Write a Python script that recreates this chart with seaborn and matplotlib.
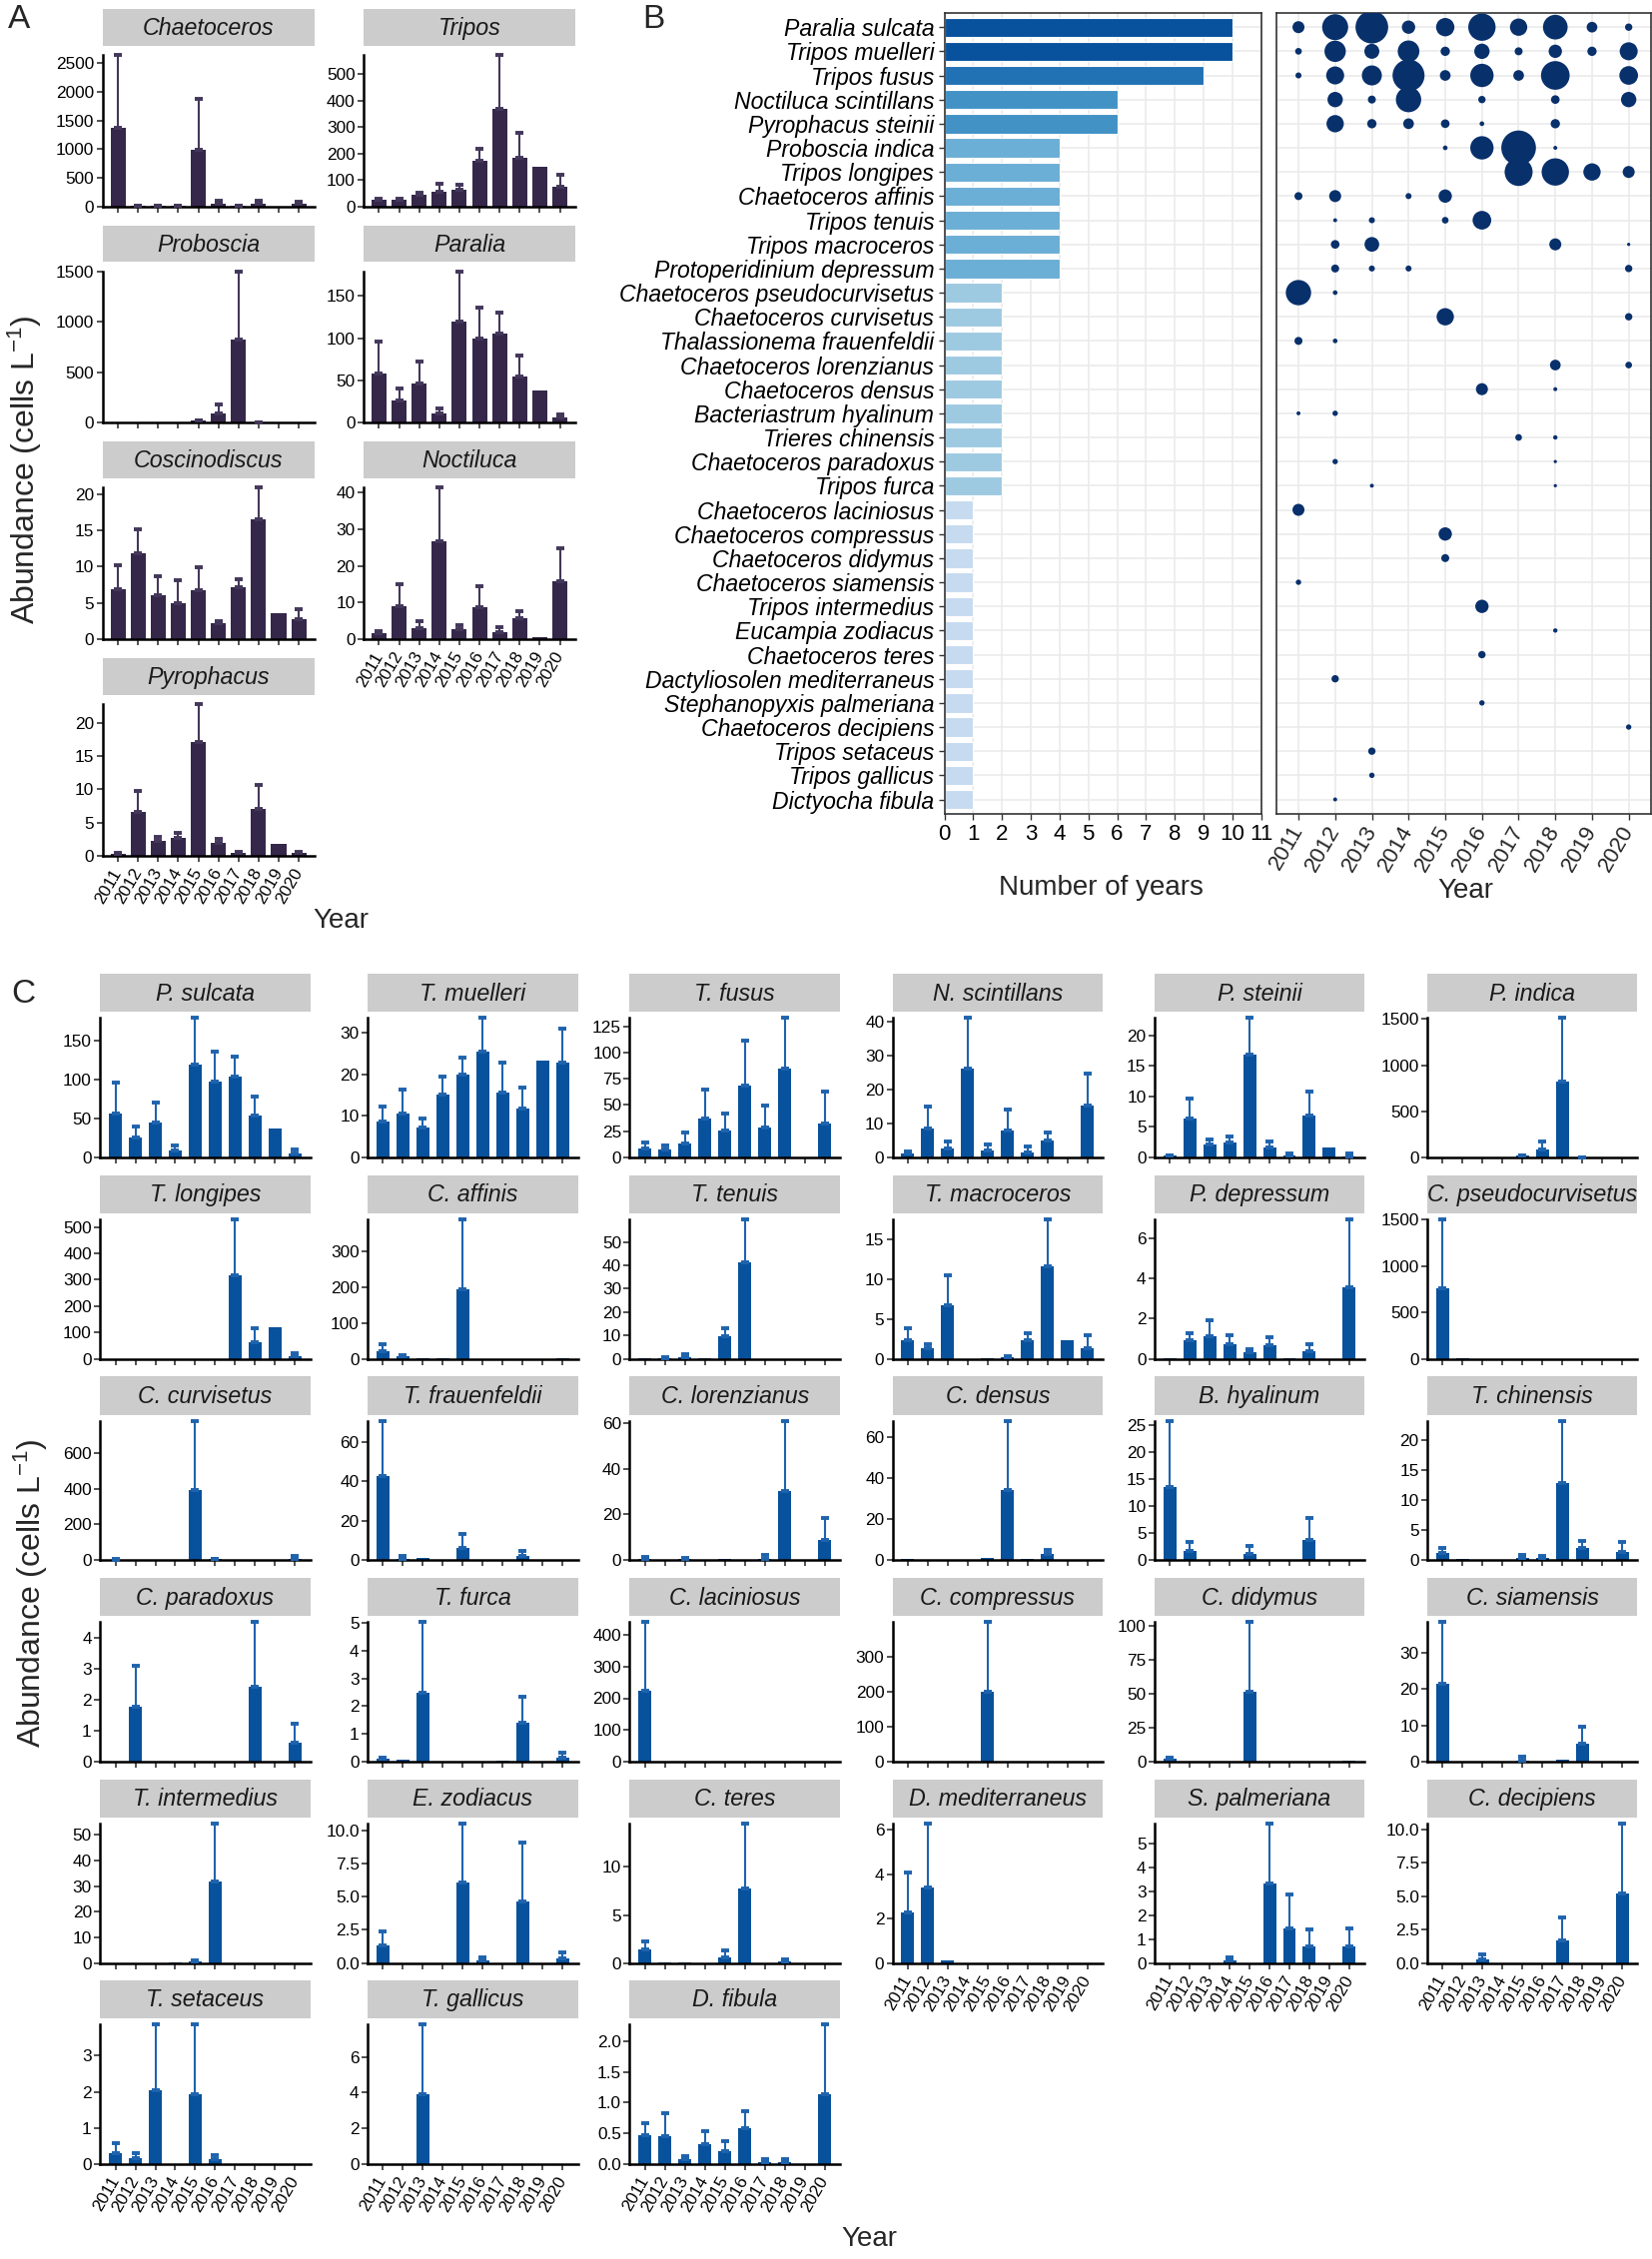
import numpy as np
import pandas as pd
import matplotlib
matplotlib.use('Agg')
import matplotlib.pyplot as plt
from matplotlib.ticker import MultipleLocator, FuncFormatter
import seaborn as sns

sns.set_style('ticks')
plt.rcParams['font.family'] = ['Liberation Sans', 'DejaVu Sans']
plt.rcParams['mathtext.fontset'] = 'custom'
plt.rcParams['mathtext.rm'] = 'Liberation Sans'
plt.rcParams['mathtext.it'] = 'Liberation Sans:italic'

years = ['2011', '2012', '2013', '2014', '2015', '2016', '2017', '2018', '2019', '2020']

# ---------------- panel A: genus level abundance (mean, sd)
genera = ['Chaetoceros', 'Tripos', 'Proboscia', 'Paralia', 'Coscinodiscus', 'Noctiluca', 'Pyrophacus']
genus_mean = [
    [1380, 12, 4, 4, 990, 55, 4, 55, 2, 40],
    [24, 24, 43, 57, 62, 173, 370, 183, 150, 73],
    [1, 1, 1, 2, 23, 96, 829, 4, 1, 1],
    [58.7, 27, 47, 11, 120, 100, 105.5, 55, 38.6, 6.7],
    [6.85, 11.8, 6.1, 5.0, 6.7, 2.2, 7.2, 16.55, 3.55, 2.8],
    [1.5, 8.9, 3.1, 26.7, 2.7, 8.6, 1.9, 5.6, 0.45, 15.9],
    [0.35, 6.55, 2.27, 2.7, 17.1, 1.9, 0.5, 7.05, 1.8, 0.4],
]
genus_sd = [
    [1265, 8, 3, 3, 880, 40, 3, 40, 0, 35],
    [6, 6, 7, 27, 20, 45, 203, 94, 0, 45],
    [0, 0, 0, 0, 3, 82, 673, 2, 0, 0],
    [37.3, 13.5, 25, 6, 59, 36, 24.5, 24, 0, 2.8],
    [3.35, 3.4, 2.6, 3.1, 3.2, 0.3, 1.0, 4.35, 0, 1.4],
    [0.6, 6.2, 1.7, 14.6, 1.1, 5.9, 1.5, 1.9, 0, 9.0],
    [0.05, 3.15, 0.63, 0.7, 5.7, 0.65, 0.1, 3.65, 0, 0.2],
]
genus_step = [500, 100, 500, 50, 5, 10, 5]

# ---------------- panel B: dominant species, bubble = relative dominance (%)
species_full = [
    'Paralia sulcata', 'Tripos muelleri', 'Tripos fusus', 'Noctiluca scintillans',
    'Pyrophacus steinii', 'Proboscia indica', 'Tripos longipes', 'Chaetoceros affinis',
    'Tripos tenuis', 'Tripos macroceros', 'Protoperidinium depressum',
    'Chaetoceros pseudocurvisetus', 'Chaetoceros curvisetus', 'Thalassionema frauenfeldii',
    'Chaetoceros lorenzianus', 'Chaetoceros densus', 'Bacteriastrum hyalinum',
    'Trieres chinensis', 'Chaetoceros paradoxus', 'Tripos furca', 'Chaetoceros laciniosus',
    'Chaetoceros compressus', 'Chaetoceros didymus', 'Chaetoceros siamensis',
    'Tripos intermedius', 'Eucampia zodiacus', 'Chaetoceros teres',
    'Dactyliosolen mediterraneus', 'Stephanopyxis palmeriana', 'Chaetoceros decipiens',
    'Tripos setaceus', 'Tripos gallicus', 'Dictyocha fibula',
]
dominance = [
    [12.0, 56.2, 88.8, 14.8, 28.0, 62.2, 25.0, 50.6, 9.5, 4.5],
    [3.7, 37.9, 18.7, 39.1, 7.2, 19.6, 5.3, 14.8, 7.2, 27.0],
    [3.0, 27.0, 33.3, 85.2, 9.5, 45.3, 9.5, 68.4, 0, 29.0],
    [0, 19.6, 5.3, 53.4, 0, 4.5, 0, 6.2, 0, 19.6],
    [0, 25.0, 7.2, 9.5, 6.2, 1.8, 0, 7.2, 0, 0],
    [0, 0, 0, 0, 1.8, 45.3, 100, 1.3, 0, 0],
    [0, 0, 0, 0, 0, 0, 65.2, 62.2, 25.0, 12.0],
    [5.3, 12.0, 0, 3.0, 14.8, 0, 0, 0, 0, 0],
    [0, 1.3, 3.0, 0, 3.7, 29.0, 0, 0, 0, 0],
    [0, 6.2, 17.9, 0, 0, 0, 0, 12.0, 0, 0.9],
    [0, 5.3, 3.0, 3.0, 0, 0, 0, 0, 0, 4.5],
    [53.4, 1.8, 0, 0, 0, 0, 0, 0, 0, 0],
    [0, 0, 0, 0, 25.0, 0, 0, 0, 0, 4.5],
    [5.3, 1.8, 0, 0, 0, 0, 0, 0, 0, 0],
    [0, 0, 0, 0, 0, 0, 0, 9.5, 0, 3.7],
    [0, 0, 0, 0, 0, 12.0, 0, 1.3, 0, 0],
    [1.3, 2.4, 0, 0, 0, 0, 0, 0, 0, 0],
    [0, 0, 0, 0, 0, 0, 3.7, 1.6, 0, 0],
    [0, 2.4, 0, 0, 0, 0, 0, 0.9, 0, 0],
    [0, 0, 1.3, 0, 0, 0, 0, 0.9, 0, 0],
    [12.0, 0, 0, 0, 0, 0, 0, 0, 0, 0],
    [0, 0, 0, 0, 14.8, 0, 0, 0, 0, 0],
    [0, 0, 0, 0, 5.3, 0, 0, 0, 0, 0],
    [2.4, 0, 0, 0, 0, 0, 0, 0, 0, 0],
    [0, 0, 0, 0, 0, 14.8, 0, 0, 0, 0],
    [0, 0, 0, 0, 0, 0, 0, 1.6, 0, 0],
    [0, 0, 0, 0, 0, 4.5, 0, 0, 0, 0],
    [0, 4.5, 0, 0, 0, 0, 0, 0, 0, 0],
    [0, 0, 0, 0, 0, 2.4, 0, 0, 0, 0],
    [0, 0, 0, 0, 0, 0, 0, 0, 0, 2.4],
    [0, 0, 4.5, 0, 0, 0, 0, 0, 0, 0],
    [0, 0, 2.4, 0, 0, 0, 0, 0, 0, 0],
    [0, 1.3, 0, 0, 0, 0, 0, 0, 0, 0],
]

# ---------------- panel C: species level abundance (mean, sd)
species_short = [
    'P. sulcata', 'T. muelleri', 'T. fusus', 'N. scintillans', 'P. steinii', 'P. indica',
    'T. longipes', 'C. affinis', 'T. tenuis', 'T. macroceros', 'P. depressum', 'C. pseudocurvisetus',
    'C. curvisetus', 'T. frauenfeldii', 'C. lorenzianus', 'C. densus', 'B. hyalinum', 'T. chinensis',
    'C. paradoxus', 'T. furca', 'C. laciniosus', 'C. compressus', 'C. didymus', 'C. siamensis',
    'T. intermedius', 'E. zodiacus', 'C. teres', 'D. mediterraneus', 'S. palmeriana', 'C. decipiens',
    'T. setaceus', 'T. gallicus', 'D. fibula',
]
species_mean = [
    [57, 26, 45, 9, 119, 98, 104, 54, 37, 5],
    [8.7, 10.5, 7.3, 15.0, 20.0, 25.3, 15.5, 11.8, 23.2, 22.8],
    [8.6, 7.3, 13.7, 37, 25.5, 68.9, 28.7, 84.8, 0, 32.5],
    [1.1, 8.5, 2.7, 26.3, 2.2, 8.1, 1.5, 5.1, 0, 15.4],
    [0.33, 6.43, 2.1, 2.5, 16.9, 1.7, 0.27, 6.9, 1.65, 0.16],
    [0, 0, 0, 0, 25, 87, 819, 3, 0, 0],
    [0, 0, 0, 0, 0, 0, 318, 65, 120, 9],
    [22.5, 6.5, 1, 1, 194, 0, 0, 0, 0, 1],
    [0.1, 0.5, 0.6, 0.4, 9.8, 41.1, 0, 0, 0, 0],
    [2.3, 1.3, 6.7, 0, 0.15, 0.2, 2.4, 11.6, 2.3, 1.4],
    [0.02, 0.92, 1.12, 0.75, 0.34, 0.67, 0.05, 0.37, 0, 3.57],
    [758, 3, 0, 0, 0, 0, 0, 0, 0, 0],
    [4, 0, 0, 1, 391, 5, 0, 1, 0, 8],
    [42.6, 0.85, 1.2, 0.2, 6.4, 0, 0.2, 2.2, 0, 0],
    [0.4, 0.3, 0.5, 0, 0.6, 0, 0.6, 30.3, 0, 8.9],
    [0.4, 0.2, 0, 0.3, 1.1, 34.1, 0.6, 2.9, 0, 0],
    [13.5, 1.7, 0, 0, 1.23, 0, 0.1, 3.76, 0, 0],
    [1.16, 0.15, 0, 0.1, 0.33, 0.33, 12.9, 2.0, 0, 1.44],
    [0, 1.78, 0, 0, 0, 0, 0, 2.4, 0, 0.6],
    [0.1, 0.07, 2.49, 0, 0, 0, 0.04, 1.41, 0, 0.16],
    [225, 0, 0, 0, 0, 0, 0, 0, 0, 0],
    [0, 0.5, 0, 0, 200, 1, 0.5, 0, 0, 0],
    [2.5, 0, 0, 0, 51.5, 0, 0, 0, 0, 0.5],
    [21.3, 0, 0, 0, 0.4, 0, 0.5, 4.8, 0, 0],
    [0, 0.05, 0, 0.1, 0.65, 31.9, 0, 0, 0, 0],
    [1.34, 0, 0, 0, 6.06, 0.18, 0, 4.65, 0, 0.35],
    [1.42, 0.05, 0.05, 0, 0.63, 7.8, 0, 0.14, 0, 0],
    [2.3, 3.39, 0.14, 0, 0, 0, 0, 0, 0, 0],
    [0, 0, 0, 0.1, 0, 3.32, 1.44, 0.7, 0, 0.7],
    [0, 0, 0.25, 0, 0, 0, 1.68, 0, 0, 5.24],
    [0.31, 0.17, 2.04, 0, 1.94, 0.14, 0, 0, 0, 0],
    [0, 0, 3.9, 0, 0, 0, 0, 0, 0, 0],
    [0.47, 0.46, 0.07, 0.32, 0.2, 0.59, 0.03, 0.02, 0, 1.13],
]
species_sd = [
    [39, 14, 26, 7, 60, 38, 26, 24, 0, 5],
    [3.6, 5.8, 2.1, 4.4, 3.9, 8.2, 7.3, 5.0, 0, 8.2],
    [5.7, 3.9, 9.9, 27.4, 16, 42.4, 21, 48.2, 0, 30.6],
    [0.8, 6.6, 2.0, 14.9, 1.55, 6.2, 1.7, 2.4, 0, 9.3],
    [0.05, 3.27, 0.9, 1.0, 6.0, 0.9, 0.33, 4.0, 0, 0.54],
    [0, 0, 0, 0, 2, 91, 692, 1, 0, 0],
    [0, 0, 0, 0, 0, 0, 211, 52, 0, 13],
    [19.5, 4.5, 0, 0, 195, 0, 0, 0, 0, 0],
    [0, 0.2, 1.2, 0, 3.1, 18.5, 0, 0, 0, 0],
    [1.6, 0.6, 3.8, 0, 0, 0.1, 0.8, 5.9, 0, 1.55],
    [0, 0.34, 0.81, 0.42, 0.15, 0.43, 0, 0.37, 0, 3.38],
    [745, 0, 0, 0, 0, 0, 0, 0, 0, 0],
    [2, 0, 0, 0, 389, 3, 0, 0, 0, 18],
    [28.2, 1.15, 0, 0, 7.1, 0, 0, 2.7, 0, 0],
    [1.2, 0, 0.7, 0, 0, 0, 1.9, 30.7, 0, 9.4],
    [0, 0, 0, 0, 0, 33.9, 0, 2.3, 0, 0],
    [12.3, 1.75, 0, 0, 1.47, 0, 0, 4.0, 0, 0],
    [0.94, 0, 0, 0, 0.57, 0.45, 10.3, 1.2, 0, 1.66],
    [0, 1.3, 0, 0, 0, 0, 0, 2.1, 0, 0.62],
    [0.04, 0, 2.53, 0, 0, 0, 0, 0.92, 0, 0.16],
    [215, 0, 0, 0, 0, 0, 0, 0, 0, 0],
    [0, 0, 0, 0, 198, 0, 0, 0, 0, 0],
    [0.5, 0, 0, 0, 51.5, 0, 0, 0, 0, 0],
    [17, 0, 0, 0, 1.0, 0, 0, 4.8, 0, 0],
    [0, 0, 0, 0, 0.55, 22.4, 0, 0, 0, 0],
    [1.01, 0, 0, 0, 4.44, 0.25, 0, 4.45, 0, 0.48],
    [0.84, 0, 0, 0, 0.72, 6.7, 0, 0.28, 0, 0],
    [1.8, 2.9, 0, 0, 0, 0, 0, 0, 0, 0],
    [0, 0, 0, 0.15, 0, 2.5, 1.41, 0.72, 0, 0.75],
    [0, 0, 0.38, 0, 0, 0, 1.75, 0, 0, 5.21],
    [0.25, 0.13, 1.83, 0, 1.93, 0.09, 0, 0, 0, 0],
    [0, 0, 3.94, 0, 0, 0, 0, 0, 0, 0],
    [0.19, 0.36, 0.05, 0.21, 0.17, 0.27, 0.04, 0.06, 0, 1.15],
]
species_step = [50, 10, 25, 10, 5, 500,
                100, 100, 10, 5, 2, 500,
                200, 20, 20, 20, 5, 5,
                1, 1, 100, 100, 25, 10,
                10, 2.5, 5, 2, 1, 2.5,
                1, 2, 0.5]

BLUES9 = ['#f7fbff', '#deebf7', '#c6dbef', '#9ecae1', '#6baed6',
          '#4292c6', '#2171b5', '#08519c', '#08306b']

W, H, DPI = 1654, 2262, 200
fig = plt.figure(figsize=(W / DPI, H / DPI), dpi=DPI, facecolor='white')


def box(x0, y0, w, h):
    return fig.add_axes([x0 / W, 1 - (y0 + h) / H, w / W, h / H])


def strip(x0, y0, w, h, label):
    ax = box(x0, y0, w, h)
    ax.set_facecolor('#cccccc')
    ax.set_xticks([])
    ax.set_yticks([])
    for sp in ax.spines.values():
        sp.set_visible(False)
    ax.text(0.5, 0.47, label, ha='center', va='center', style='italic',
            fontsize=8.4, color='#1a1a1a', transform=ax.transAxes)


def bar_panel(ax, mean, sd, step, bar_color, err_color, width, show_years):
    df = pd.DataFrame({'Year': years, 'Abundance': mean})
    sns.barplot(data=df, x='Year', y='Abundance', color=bar_color, saturation=1,
                width=width, errorbar=None, linewidth=0, ax=ax)
    m = np.asarray(mean, float)
    s = np.asarray(sd, float)
    has = s > 0
    pos = np.arange(len(years))
    eb = ax.errorbar(pos[has], m[has], yerr=[np.zeros(has.sum()), s[has]], fmt='none',
                     ecolor=err_color, elinewidth=0.75, capsize=1.4, capthick=1.4, zorder=3)
    for art in list(eb.lines[1]) + list(eb.lines[2]):
        art.set_clip_on(False)
    ax.set_ylim(0, (m + s).max())
    ax.set_xlim(-0.77, 9.77)
    ax.yaxis.set_major_locator(MultipleLocator(step))
    if float(step).is_integer():
        ax.yaxis.set_major_formatter(FuncFormatter(lambda v, p: f'{v:.0f}'))
    else:
        ax.yaxis.set_major_formatter(FuncFormatter(lambda v, p: f'{v:.1f}'))
    ax.set_facecolor('none')
    for sp in ['top', 'right']:
        ax.spines[sp].set_visible(False)
    for sp in ['left', 'bottom']:
        ax.spines[sp].set_linewidth(0.9)
        ax.spines[sp].set_color('black')
    ax.tick_params(length=2, width=0.6, labelsize=6.2, pad=1, color='#333333', labelcolor='black')
    ax.set_xlabel('')
    ax.set_ylabel('')
    ax.set_xticks(range(len(years)))
    if show_years:
        ax.set_xticklabels(years, rotation=60, ha='right', va='center', rotation_mode='anchor')
        ax.tick_params(axis='x', pad=3)
    else:
        ax.set_xticklabels([])


# ================= Panel A
a_cols = [102.6, 364]
a_rows = [9, 225.7, 442.3, 659.3]
a_w, a_strip_h, a_off, a_h = 212, 36.5, 46, 151.7
for k, g in enumerate(genera):
    r, c = divmod(k, 2)
    x0, y0 = a_cols[c], a_rows[r]
    strip(x0, y0, a_w, a_strip_h, g)
    ax = box(x0, y0 + a_off, a_w, a_h)
    bar_panel(ax, genus_mean[k], genus_sd[k], genus_step[k], '#35274a', '#43375a', 0.75,
              k + 2 >= len(genera))

fig.text(8 / W, 1 - 4 / H, 'A', fontsize=12, va='top', ha='left')
fig.text(25 / W, 1 - 470 / H, 'Abundance (cells L$^{-1}$)', rotation=90,
         ha='center', va='center', fontsize=11.5)
fig.text(341 / W, 1 - 922 / H, 'Year', ha='center', va='center', fontsize=10)

# ================= Panel B (bars)
n_years = [int(np.sum(np.asarray(row) > 0)) for row in dominance]
levels = sorted(set(n_years))
bar_colors = [BLUES9[2 + levels.index(n)] for n in n_years]

ax_b = box(945.6, 12.7, 317, 802.3)
df_b = pd.DataFrame({'Species': species_full, 'Years': n_years})
sns.barplot(data=df_b, x='Years', y='Species', hue='Species', palette=bar_colors,
            orient='h', width=0.8, saturation=1, legend=False, edgecolor='white',
            linewidth=0.4, ax=ax_b)
ax_b.set_xlim(0, 11)
ax_b.set_ylim(len(species_full) - 0.4, -0.6)
ax_b.set_xticks(range(12))
ax_b.set_axisbelow(True)
ax_b.grid(True, color='#ebebeb', linewidth=0.6)
for sp in ax_b.spines.values():
    sp.set_color('#333333')
    sp.set_linewidth(0.6)
ax_b.tick_params(length=2.2, width=0.5, color='#333333', labelsize=8, pad=1.5, labelcolor='black')
ax_b.tick_params(axis='y', labelsize=8.3)
for lbl in ax_b.get_yticklabels():
    lbl.set_fontstyle('italic')
ax_b.set_xlabel('')
ax_b.set_ylabel('')

# ================= Panel B (bubbles)
ax_d = box(1278, 12.7, 374.7, 802.3)
rows = []
for i, sp_name in enumerate(species_full):
    for j, yr in enumerate(years):
        if dominance[i][j] > 0:
            rows.append((j, i, dominance[i][j]))
df_d = pd.DataFrame(rows, columns=['x', 'y', 'Dominance'])
sns.scatterplot(data=df_d, x='x', y='y', size='Dominance', sizes=(0, 156), size_norm=(0, 100),
                color=BLUES9[-1], linewidth=0, legend=False, ax=ax_d, zorder=3)
ax_d.set_xlim(-0.6, 9.6)
ax_d.set_ylim(len(species_full) - 0.4, -0.6)
ax_d.set_xticks(range(len(years)))
ax_d.set_xticklabels(years, rotation=60, ha='right', va='center', rotation_mode='anchor')
ax_d.set_yticks(range(len(species_full)))
ax_d.set_yticklabels([])
ax_d.tick_params(axis='y', length=0)
ax_d.tick_params(axis='x', length=2.2, width=0.5, color='#333333', labelsize=8, pad=2.5)
ax_d.set_axisbelow(True)
ax_d.grid(True, color='#ebebeb', linewidth=0.6)
for sp in ax_d.spines.values():
    sp.set_color('#333333')
    sp.set_linewidth(0.6)
ax_d.set_xlabel('')
ax_d.set_ylabel('')

fig.text(643 / W, 1 - 4 / H, 'B', fontsize=12, va='top', ha='left')
fig.text(1102 / W, 1 - 889 / H, 'Number of years', ha='center', va='center', fontsize=10)
fig.text(1467 / W, 1 - 892 / H, 'Year', ha='center', va='center', fontsize=10)

# ================= Panel C
c_cols = [100.2, 368, 630.4, 893.6, 1155.8, 1429]
c_rows = [975, 1176.7, 1378.3, 1580, 1781.7, 1982.7]
c_w, c_strip_h, c_off, c_h = 210.5, 38.3, 44.3, 139.7
for k, name in enumerate(species_short):
    r, c = divmod(k, 6)
    x0, y0 = c_cols[c], c_rows[r]
    strip(x0, y0, c_w, c_strip_h, name)
    ax = box(x0, y0 + c_off, c_w, c_h)
    bar_panel(ax, species_mean[k], species_sd[k], species_step[k], '#08519c', '#1f63ad', 0.65,
              k + 6 >= len(species_short))

fig.text(11 / W, 1 - 980 / H, 'C', fontsize=12, va='top', ha='left')
fig.text(31 / W, 1 - 1595 / H, 'Abundance (cells L$^{-1}$)', rotation=90,
         ha='center', va='center', fontsize=11.5)
fig.text(870 / W, 1 - 2242 / H, 'Year', ha='center', va='center', fontsize=10)

fig.savefig('out.png', dpi=DPI, facecolor='white')
